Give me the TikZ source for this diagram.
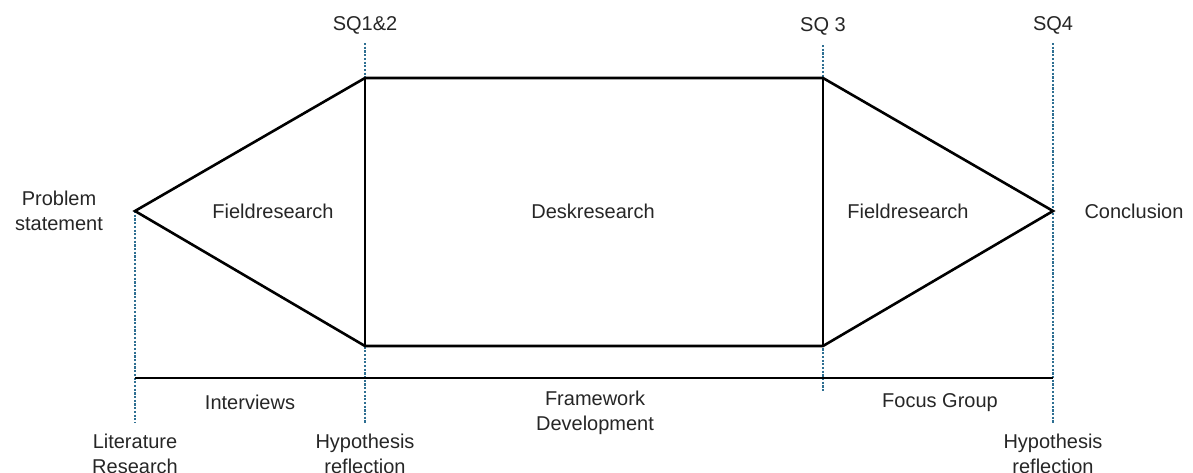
\documentclass[tikz,border=0pt]{standalone}
\usepackage{fontspec}
\setmainfont{Liberation Sans}
\definecolor{guide}{HTML}{2E6F92}
\begin{document}
\begin{tikzpicture}[x=1pt,y=-1pt,
  phase/.style={line width=2.6pt,line join=miter},
  guideline/.style={guide,line width=1.3pt,dash pattern=on 2.2pt off 1.5pt},
  lbl/.style={font=\fontsize{20}{25}\selectfont,text=black!85,align=center,inner sep=0pt}]
\useasboundingbox (0,0) rectangle (1193,472);

% main phase outline
\coordinate (apexL) at (135,211);
\coordinate (tl) at (365,78);
\coordinate (bl) at (365,346);
\coordinate (tr) at (823,78);
\coordinate (br) at (823,346);
\coordinate (apexR) at (1053,211);

% guide lines
\coordinate (g1a) at (135,211);  \coordinate (g1b) at (135,423);
\coordinate (g2a) at (365,43);   \coordinate (g2b) at (365,423);
\coordinate (g3a) at (823,45);   \coordinate (g3b) at (823,391);
\coordinate (g4a) at (1053,43);  \coordinate (g4b) at (1053,424);
\draw[guideline] (g1a) -- (g1b);
\draw[guideline] (g2a) -- (g2b);
\draw[guideline] (g3a) -- (g3b);
\draw[guideline] (g4a) -- (g4b);

\draw[phase] (apexL) -- (tl) -- (tr) -- (apexR) -- (br) -- (bl) -- cycle;
\draw[phase] (tl) -- (bl);
\draw[phase] (tr) -- (br);

% timeline
\coordinate (t0) at (135,378);
\coordinate (t1) at (1053,378);
\draw[phase] (t0) -- (t1);

% labels
\node[lbl] (sq12) at (365,25) {SQ1\&2};
\node[lbl] (sq3) at (823,26) {SQ 3};
\node[lbl] (sq4) at (1053,25) {SQ4};
\node[lbl] (prob) at (59,211) {Problem\\statement};
\node[lbl] (concl) at (1134,211) {Conclusion};
\node[lbl] (f1) at (273,211) {Fieldresearch};
\node[lbl] (desk) at (593,211) {Deskresearch};
\node[lbl] (f2) at (908,211) {Fieldresearch};
\node[lbl] (intv) at (250,402) {Interviews};
\node[lbl] (frame) at (595,413) {Framework\\Development};
\node[lbl] (focus) at (940,403) {Focus Group};
\node[lbl,anchor=north] (lit) at (135,434) {Literature\\Research};
\node[lbl,anchor=north] (hyp1) at (365,434) {Hypothesis\\reflection};
\node[lbl,anchor=north] (hyp2) at (1053,434) {Hypothesis\\reflection};
\end{tikzpicture}
\end{document}
